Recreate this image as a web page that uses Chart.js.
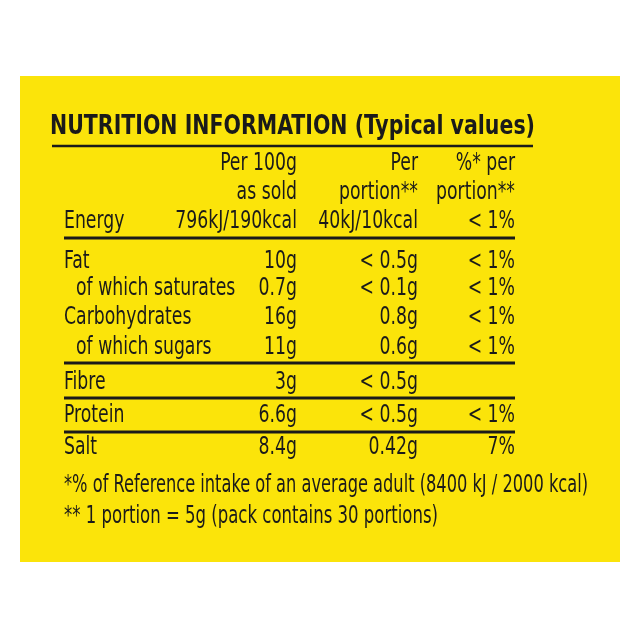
<!DOCTYPE html>
<html><head><meta charset="utf-8">
<script src="https://cdn.jsdelivr.net/npm/chart.js"></script>
<style>html,body{margin:0;background:#fff}#w{width:640px;height:640px}</style>
</head><body><div id="w"><canvas id="c"></canvas></div>
<script>
const title = "NUTRITION INFORMATION (Typical values)";
const headers1 = ["Per 100g", "Per", "%* per"];
const headers2 = ["as sold", "portion**", "portion**"];
const nutrients = ["Energy","Fat","of which saturates","Carbohydrates","of which sugars","Fibre","Protein","Salt"];
const indented = [false,false,true,false,true,false,false,false];
const per100g = ["796kJ/190kcal","10g","0.7g","16g","11g","3g","6.6g","8.4g"];
const perPortion = ["40kJ/10kcal","< 0.5g","< 0.1g","0.8g","0.6g","< 0.5g","< 0.5g","0.42g"];
const pctPortion = ["< 1%","< 1%","< 1%","< 1%","< 1%","","< 1%","7%"];
const footnotes = ["*% of Reference intake of an average adult (8400 kJ / 2000 kcal)","** 1 portion = 5g (pack contains 30 portions)"];

const rowY = [220,260,287,316,346,381,414,446];
const FONT = '"DejaVu Sans Condensed","Liberation Sans Narrow",sans-serif';
const SX = 0.8;
function txt(ctx,s,x,y,align,sx,fitW){
  ctx.save();
  let k = sx;
  if(fitW){ k = fitW/ctx.measureText(s).width; }
  ctx.translate(x,y); ctx.scale(k,1);
  ctx.textAlign=align; ctx.fillText(s,0,0);
  ctx.restore();
}
const tablePlugin = {
  id:'table',
  beforeDraw(chart){
    const ctx = chart.ctx;
    ctx.save();
    ctx.fillStyle='#fff'; ctx.fillRect(0,0,640,640);
    ctx.fillStyle='#fbe40a'; ctx.fillRect(20,76,600,486);
    ctx.fillStyle='#1a1a1a'; ctx.strokeStyle='#1a1a1a';
    ctx.textBaseline='alphabetic';
    ctx.font='bold 27px '+FONT;
    txt(ctx,title,50,134,'left',1,485);
    ctx.lineWidth=2.5;
    const line=(x1,x2,y)=>{ctx.beginPath();ctx.moveTo(x1,y);ctx.lineTo(x2,y);ctx.stroke();};
    line(52,533,146);
    ctx.lineWidth=3;
    [238,363,398,432].forEach(y=>line(64,515,y));
    ctx.font='24px '+FONT;
    const colX=[297,418,515];
    headers1.forEach((h,i)=>txt(ctx,h,colX[i],170,'right',SX));
    headers2.forEach((h,i)=>txt(ctx,h,colX[i],199,'right',SX));
    nutrients.forEach((n,i)=>{
      txt(ctx,n, indented[i]?76:64, rowY[i]+8,'left',SX);
      txt(ctx,per100g[i],colX[0],rowY[i]+8,'right',SX);
      txt(ctx,perPortion[i],colX[1],rowY[i]+8,'right',SX);
      txt(ctx,pctPortion[i],colX[2],rowY[i]+8,'right',SX);
    });
    txt(ctx,footnotes[0],64,492,'left',SX,524);
    txt(ctx,footnotes[1],64,523,'left',SX,374);
    ctx.restore();
  }
};
new Chart(document.getElementById('c'),{
  type:'bar',
  data:{labels:nutrients,datasets:[{data:[],backgroundColor:'transparent'}]},
  options:{responsive:true,maintainAspectRatio:false,animation:false,
    plugins:{legend:{display:false},tooltip:{enabled:false}},
    scales:{x:{display:false},y:{display:false}}},
  plugins:[tablePlugin]
});
</script></body></html>
